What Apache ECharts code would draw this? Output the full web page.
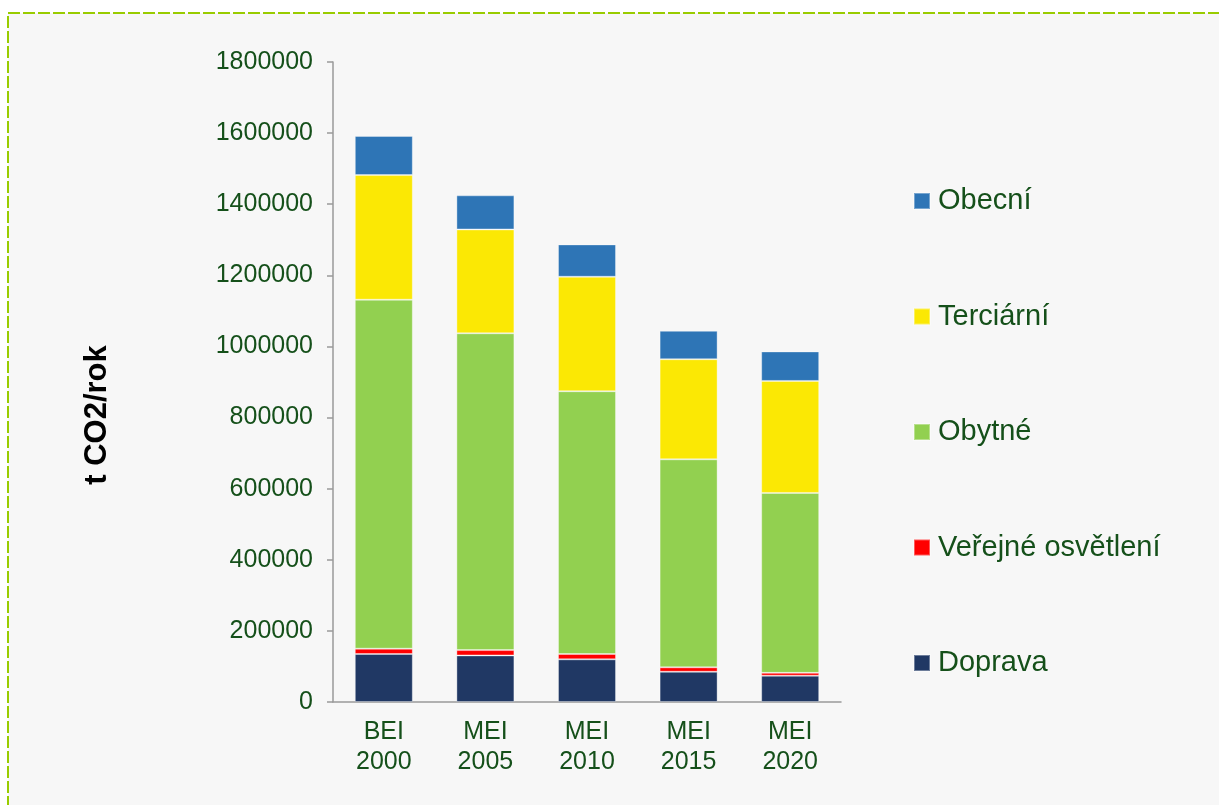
<!DOCTYPE html>
<html>
<head>
<meta charset="utf-8">
<script src="https://cdn.jsdelivr.net/npm/echarts@6/dist/echarts.min.js"></script>
<style>
html,body{margin:0;padding:0;background:#ffffff;}
#chart{width:1219px;height:805px;}
</style>
</head>
<body>
<div id="chart"></div>
<script>
const categories = ['BEI\n2000', 'MEI\n2005', 'MEI\n2010', 'MEI\n2015', 'MEI\n2020'];
const seriesNames = ['Doprava', 'Veřejné osvětlení', 'Obytné', 'Terciární', 'Obecní'];
const doprava = [135000, 131000, 120000, 85000, 74000];
const verejneOsvetleni = [15000, 15000, 15000, 12500, 8000];
const obytne = [981500, 891000, 739000, 585000, 506000];
const terciarni = [350500, 292000, 322000, 281500, 315000];
const obecni = [110000, 96000, 91000, 80000, 83000];
const yTicks = { min: 0, max: 1800000, interval: 200000 };
const yAxisTitle = 't CO2/rok';

const colors = ['#203864', '#ff0000', '#92d050', '#fbe804', '#2e75b6'];
const values = [doprava, verejneOsvetleni, obytne, terciarni, obecni];
const textColor = '#15501a';
const font = '"Liberation Sans", Arial, sans-serif';

const chart = echarts.init(document.getElementById('chart'));
chart.setOption({
  backgroundColor: '#ffffff',
  animation: false,
  graphic: [
    {
      type: 'rect', z: -100, silent: true,
      shape: { x: 8, y: 13, width: 1400, height: 1000 },
      style: { fill: '#f7f7f7', stroke: '#99cc00', lineWidth: 2, lineDash: [12, 3] }
    },
    {
      type: 'text', z: 10, x: 97, y: 415, rotation: Math.PI / 2,
      style: {
        text: yAxisTitle, fill: '#000000', font: 'bold 31px ' + font,
        textAlign: 'center', textVerticalAlign: 'middle'
      }
    }
  ],
  grid: { left: 333, right: 378, top: 62, bottom: 103, containLabel: false },
  legend: {
    orient: 'vertical', left: 913, top: 186, padding: 0,
    data: seriesNames.slice().reverse(),
    icon: 'rect', itemWidth: 16, itemHeight: 16, itemGap: 85.5,
    textStyle: { color: textColor, fontSize: 29, fontFamily: font, lineHeight: 30, padding: [0, 0, 0, 3] },
    selectedMode: false
  },
  xAxis: {
    type: 'category', data: categories,
    axisLine: { lineStyle: { color: '#9a9a9a', width: 1.5 } },
    axisTick: { show: false },
    axisLabel: { color: textColor, fontSize: 25, fontFamily: font, lineHeight: 30, margin: 15 }
  },
  yAxis: {
    type: 'value', min: yTicks.min, max: yTicks.max, interval: yTicks.interval,
    axisLine: { show: true, lineStyle: { color: '#9a9a9a', width: 1.5 } },
    axisTick: { show: true, length: 6, lineStyle: { color: '#9a9a9a', width: 1.5 } },
    splitLine: { show: false },
    axisLabel: { color: textColor, fontSize: 25, fontFamily: font, margin: 20, formatter: v => String(v) }
  },
  series: seriesNames.map((n, i) => ({
    name: n, type: 'bar', stack: 'total', data: values[i],
    barWidth: 58,
    itemStyle: { color: colors[i], borderColor: 'rgba(255,255,255,0.35)', borderWidth: 1 }
  }))
});
</script>
</body>
</html>
